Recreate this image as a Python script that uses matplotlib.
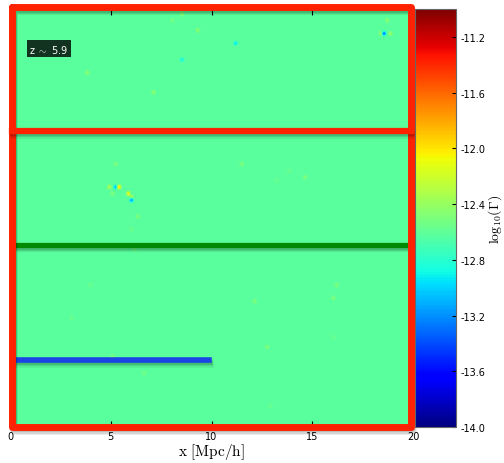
import numpy as np
import matplotlib
matplotlib.use("Agg")
import matplotlib.pyplot as plt
import matplotlib.patheffects as pe

plt.rcParams['mathtext.fontset'] = 'cm'

# ---- data ----
base_log_gamma = -12.62          # uniform background value of log10(Gamma)
grid_n = 128
box_size = 20.0                  # Mpc/h

# isolated features (x, y in Mpc/h, value log10 Gamma)
spot_x = [8.59, 8.09, 9.33, 11.12, 8.59, 18.56, 18.41, 18.81, 18.61, 7.10, 3.87,
          5.16, 4.96, 5.16, 5.46, 5.06, 5.91, 6.00, 6.05, 6.30, 6.00,
          11.41, 13.75, 14.64, 13.25, 5.11, 6.10, 16.13, 16.08, 12.11, 12.66,
          16.03, 12.90, 6.70, 3.92, 2.98]
spot_y = [19.76, 19.43, 18.95, 18.37, 17.56, 18.80, 18.80, 18.80, 19.43, 15.98, 17.03,
          12.54, 11.48, 11.48, 11.48, 11.24, 11.20, 10.96, 10.81, 10.00, 9.47,
          12.54, 12.20, 12.01, 11.77, 3.35, 8.52, 6.79, 6.22, 6.03, 3.88,
          4.26, 1.00, 2.63, 6.84, 5.31]
spot_v = [-12.40, -12.50, -12.40, -13.05, -12.95, -13.45, -12.35, -12.35, -12.40, -12.40, -12.40,
          -12.45, -12.25, -13.20, -11.75, -12.45, -12.00, -12.30, -13.30, -12.45, -12.55,
          -12.45, -12.55, -12.45, -12.55, -12.45, -12.50, -12.45, -12.45, -12.45, -12.45,
          -12.55, -12.55, -12.50, -12.55, -12.55]

vmin, vmax = -14.0, -11.0
cbar_ticks = [-11.2, -11.6, -12.0, -12.4, -12.8, -13.2, -13.6, -14.0]
x_ticks = [0, 5, 10, 15, 20]

# overlay lines (x0, x1, y) in Mpc/h
red_box = dict(x0=0.1, x1=19.88, y0=0.02, y1=20.1, ymid=14.16)
green_line = (0.1, 19.85, 8.71)
blue_line = (0.1, 9.88, 3.2)

# ---- build image ----
img = np.full((grid_n, grid_n), base_log_gamma)
cell = box_size / grid_n
for x, y, v in zip(spot_x, spot_y, spot_v):
    i = min(int(y / cell), grid_n - 1)
    j = min(int(x / cell), grid_n - 1)
    img[i, j] = v

W, H = 504, 464
fig = plt.figure(figsize=(W / 100, H / 100), dpi=100)
ax = fig.add_axes([10 / W, 1 - 428 / H, 403 / W, 418 / H])
cax = fig.add_axes([415 / W, 1 - 428 / H, 41 / W, 418 / H])

im = ax.imshow(img, origin='lower', extent=[0, box_size, 0, box_size], cmap='jet',
               vmin=vmin, vmax=vmax, interpolation='bilinear', aspect='auto')
ax.set_xlim(0, box_size)
ax.set_ylim(0, box_size)
ax.set_xticks(x_ticks)
ax.set_xticklabels([str(t) for t in x_ticks])
ax.set_yticks([])
ax.tick_params(axis='x', direction='in', top=True, labelsize=7, length=4, pad=3)
for s in ax.spines.values():
    s.set_color('#555555')
    s.set_linewidth(0.8)
ax.set_xlabel(r'$\mathrm{x\ [Mpc/h]}$', fontsize=11, labelpad=0)

shadow = [pe.SimpleLineShadow(offset=(0.6, -1.2), alpha=0.12, rho=0.3),
          pe.SimpleLineShadow(offset=(1.0, -2.2), alpha=0.10, rho=0.3),
          pe.SimpleLineShadow(offset=(1.4, -3.2), alpha=0.07, rho=0.3),
          pe.Normal()]

rb = red_box
ax.plot([rb['x0'], rb['x1'], rb['x1'], rb['x0'], rb['x0']],
        [rb['y1'], rb['y1'], rb['y0'], rb['y0'], rb['y1']],
        color='#ff2200', lw=5, solid_joinstyle='round', solid_capstyle='round',
        clip_on=False, path_effects=shadow, zorder=5)
ax.plot([rb['x0'], rb['x1']], [rb['ymid'], rb['ymid']], color='#ff2200', lw=4.5,
        clip_on=False, path_effects=shadow, zorder=5)
ax.plot([green_line[0], green_line[1]], [green_line[2], green_line[2]], color='#008a00',
        lw=3.8, clip_on=False, path_effects=shadow, zorder=4)
ax.plot([blue_line[0], blue_line[1]], [blue_line[2], blue_line[2]], color='#1a44e6',
        lw=4, clip_on=False, path_effects=shadow, zorder=4)

ax.text(0.048, 0.905, r'z $\sim$ 5.9', transform=ax.transAxes, fontsize=7, color='white',
        va='center', ha='left', zorder=6,
        bbox=dict(boxstyle='square,pad=0.25', facecolor='black', alpha=0.8, edgecolor='none'))

cb = fig.colorbar(im, cax=cax, ticks=cbar_ticks)
cb.ax.set_yticklabels(['%.1f' % t for t in cbar_ticks])
cb.ax.tick_params(direction='in', labelsize=7, length=3, pad=3)
cb.outline.set_edgecolor('#666666')
cb.set_label(r'$\mathrm{log_{10}(\Gamma)}$', fontsize=10, labelpad=1)

fig.savefig('out.png', dpi=100)
